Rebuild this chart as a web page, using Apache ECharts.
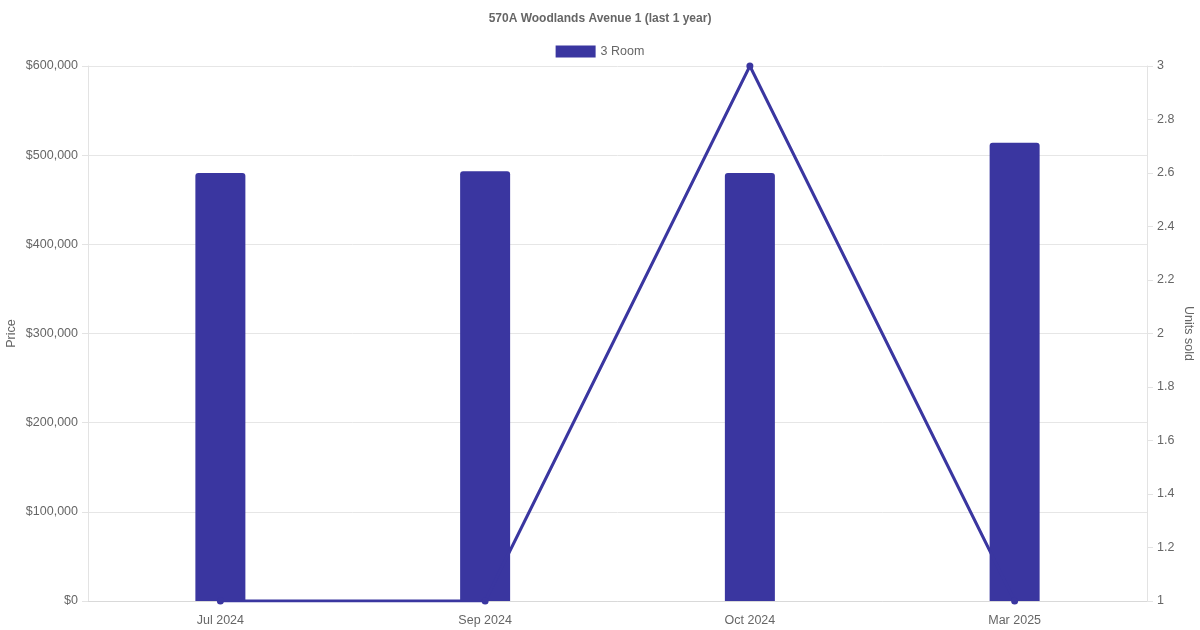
<!DOCTYPE html>
<html>
<head>
<meta charset="utf-8">
<script src="https://cdn.jsdelivr.net/npm/echarts@6/dist/echarts.min.js"></script>
<style>html,body{margin:0;padding:0;background:#fff}#c{width:1200px;height:630px}</style>
</head>
<body>
<div id="c"></div>
<script>
const categories = ['Jul 2024', 'Sep 2024', 'Oct 2024', 'Mar 2025'];
const prices = [480000, 482000, 480000, 514000];
const unitsSold = [1, 1, 3, 1];
const priceTicks = { min: 0, max: 600000, interval: 100000 };
const unitTicks = { min: 1, max: 3, interval: 0.2 };

const color = '#3a36a0';
const font = 'Liberation Sans, Arial, Helvetica, sans-serif';
const chart = echarts.init(document.getElementById('c'), null, { renderer: 'canvas' });
chart.setOption({
  animation: false,
  textStyle: { fontFamily: font },
  title: {
    text: '570A Woodlands Avenue 1 (last 1 year)',
    left: 'center', top: 8,
    textStyle: { fontSize: 12, fontWeight: 'bold', color: '#666', fontFamily: font }
  },
  legend: {
    data: ['3 Room'], top: 40, left: 'center',
    icon: 'rect', itemWidth: 40, itemHeight: 12, itemGap: 6,
    textStyle: { fontSize: 12.5, color: '#666', fontFamily: font }
  },
  grid: { left: 88, right: 53, top: 66, bottom: 29, containLabel: false, outerBoundsMode: 'none' },
  xAxis: {
    type: 'category', data: categories,
    axisLine: { lineStyle: { color: '#d9d9d9' } },
    axisTick: { show: false },
    axisLabel: { color: '#666', fontSize: 12.5, margin: 13, fontFamily: font },
    splitLine: { show: false }
  },
  yAxis: [{
    type: 'value', min: priceTicks.min, max: priceTicks.max, interval: priceTicks.interval,
    name: 'Price', nameLocation: 'middle', nameGap: 70, nameRotate: 90, nameMoveOverlap: false,
    nameTextStyle: { color: '#666', fontSize: 12.5, fontFamily: font },
    axisLine: { show: true, lineStyle: { color: '#e3e3e3' } },
    axisTick: { show: true, length: 6, lineStyle: { color: '#e3e3e3' } },
    axisLabel: { color: '#666', fontSize: 12.5, margin: 10, fontFamily: font,
      formatter: v => '$' + v.toLocaleString('en-US') },
    splitLine: { lineStyle: { color: '#e6e6e6' } }
  }, {
    type: 'value', min: unitTicks.min, max: unitTicks.max, interval: unitTicks.interval,
    name: 'Units sold', nameLocation: 'middle', nameGap: 35, nameRotate: -90, nameMoveOverlap: false,
    nameTextStyle: { color: '#666', fontSize: 12.5, fontFamily: font },
    axisLine: { show: true, lineStyle: { color: '#e3e3e3' } },
    axisTick: { show: true, length: 6, lineStyle: { color: '#e3e3e3' } },
    axisLabel: { color: '#666', fontSize: 12.5, margin: 10, fontFamily: font,
      formatter: v => String(Math.round(v * 10) / 10) },
    splitLine: { show: false }
  }],
  series: [{
    name: '3 Room', type: 'bar', data: prices, yAxisIndex: 0,
    barWidth: 50,
    itemStyle: { color: color, borderRadius: [3, 3, 0, 0] },
    z: 2
  }, {
    name: 'Units sold', type: 'line', data: unitsSold, yAxisIndex: 1,
    lineStyle: { color: color, width: 3 },
    itemStyle: { color: color },
    symbol: 'circle', symbolSize: 7, showSymbol: true,
    z: 3
  }]
});
</script>
</body>
</html>
